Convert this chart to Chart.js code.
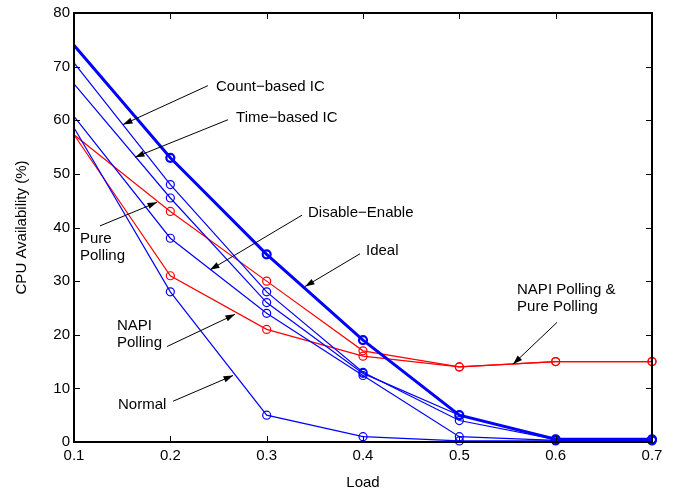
<!DOCTYPE html>
<html>
<head>
<meta charset="utf-8">
<title>CPU Availability vs Load</title>
<script src="https://cdn.jsdelivr.net/npm/chart.js@4.4.1/dist/chart.umd.min.js"></script>
<style>
    body { margin: 0; background: #fff; }
    #wrap { width: 683px; height: 493px; }
</style>
</head>
<body>
<div id="wrap"><canvas id="myChart" width="683" height="493"></canvas></div>
<script>
// load steps on the x axis
var Loads = [0.1, 0.2, 0.3, 0.4, 0.5, 0.6, 0.7];
var X_Ticks = [0.1, 0.2, 0.3, 0.4, 0.5, 0.6, 0.7];
var Y_Ticks = [0, 10, 20, 30, 40, 50, 60, 70, 80];

// CPU availability (%) per scheme
var Ideal = [74, 53, 35, 19, 5, 0.5, 0.5];
var Count_IC = [70.7, 48, 28, 13, 4, 0.5, 0.5];
var Time_IC = [66.8, 45.5, 26, 12.8, 5, 0.5, 0.5];
var Disable_Enable = [60.7, 38, 24, 12.4, 1, 0.3, 0.3];
var Normal = [58.6, 28, 5, 1, 0.2, 0.2, 0.2];
var Pure_Polling = [57.3, 43, 30, 17, 14, 15, 15];
var NAPI_Polling = [57.3, 31, 21, 16, 14, 15, 15];

// text callouts: text anchor, arrow tail and arrow tip in data units
var Notes = [
    { lines: ['Count\u2212based IC'], at: [0.2474, 66.3], from: [0.239, 66.45], to: [0.1509, 59.2] },
    { lines: ['Time\u2212based IC'], at: [0.2682, 60.5], from: [0.2599, 60.1], to: [0.1633, 53.1] },
    { lines: ['Pure', 'Polling'], at: [0.1062, 37.9], from: [0.127, 40.3], to: [0.1862, 44.7] },
    { lines: ['Disable\u2212Enable'], at: [0.3429, 42.7], from: [0.3367, 42.3], to: [0.2412, 32.1] },
    { lines: ['Ideal'], at: [0.4031, 35.6], from: [0.3969, 35.1], to: [0.3398, 29.0] },
    { lines: ['NAPI', 'Polling'], at: [0.1446, 21.7], from: [0.1965, 17.8], to: [0.2671, 23.8] },
    { lines: ['Normal'], at: [0.1457, 6.9], from: [0.2028, 7.6], to: [0.2651, 12.4] },
    { lines: ['NAPI Polling &', 'Pure Polling'], at: [0.5599, 28.4], from: [0.6014, 22.3], to: [0.5557, 14.5] }
];

var FONT = "'Liberation Sans', Arial, Helvetica, sans-serif";

function toPoints(values) {
    var pts = new Array();
    for (i = 0; i < values.length; i++) {
        pts[i] = { x: Loads[i], y: values[i] };
    }
    return pts;
}

function series(label, values, color, width, marker) {
    return {
        label: label,
        data: toPoints(values),
        borderColor: color,
        borderWidth: width,
        backgroundColor: 'rgba(0,0,0,0)',
        pointStyle: 'circle',
        pointRadius: function(ctx) { return ctx.dataIndex == 0 ? 0 : 4; },
        pointBorderWidth: marker,
        pointBorderColor: color,
        pointBackgroundColor: 'rgba(0,0,0,0)',
        tension: 0,
        clip: false
    };
}

// box round the plot with inward ticks on all four sides
var boxTicks = {
    id: 'boxTicks',
    afterDatasetsDraw: function(chart) {
        var c = chart.ctx;
        var a = chart.chartArea;
        var xs = chart.scales.x;
        var ys = chart.scales.y;
        var len = 6;
        c.save();
        c.strokeStyle = '#000';
        c.lineWidth = 1;
        c.beginPath();
        X_Ticks.forEach(function(v) {
            var px = Math.round(xs.getPixelForValue(v)) + 0.5;
            c.moveTo(px, a.bottom); c.lineTo(px, a.bottom - len);
            c.moveTo(px, a.top); c.lineTo(px, a.top + len);
        });
        Y_Ticks.forEach(function(v) {
            var py = Math.round(ys.getPixelForValue(v)) + 0.5;
            c.moveTo(a.left, py); c.lineTo(a.left + len, py);
            c.moveTo(a.right, py); c.lineTo(a.right - len, py);
        });
        c.stroke();
        c.lineWidth = 2;
        c.strokeRect(a.left, a.top, a.right - a.left, a.bottom - a.top);
        c.restore();
    }
};

// labels with arrows pointing at the curves
var callouts = {
    id: 'callouts',
    afterDatasetsDraw: function(chart) {
        var c = chart.ctx;
        var xs = chart.scales.x;
        var ys = chart.scales.y;
        c.save();
        c.fillStyle = '#000';
        c.strokeStyle = '#000';
        c.font = '15px ' + FONT;
        c.textBaseline = 'middle';
        c.textAlign = 'left';
        Notes.forEach(function(n) {
            var tx = xs.getPixelForValue(n.at[0]);
            var ty = ys.getPixelForValue(n.at[1]);
            for (j = 0; j < n.lines.length; j++) {
                c.fillText(n.lines[j], tx, ty + j * 17);
            }
            var x0 = xs.getPixelForValue(n.from[0]);
            var y0 = ys.getPixelForValue(n.from[1]);
            var x1 = xs.getPixelForValue(n.to[0]);
            var y1 = ys.getPixelForValue(n.to[1]);
            var ang = Math.atan2(y1 - y0, x1 - x0);
            c.lineWidth = 1;
            c.beginPath();
            c.moveTo(x0, y0);
            c.lineTo(x1, y1);
            c.stroke();
            c.beginPath();
            c.moveTo(x1, y1);
            c.lineTo(x1 - 10 * Math.cos(ang - 0.32), y1 - 10 * Math.sin(ang - 0.32));
            c.lineTo(x1 - 10 * Math.cos(ang + 0.32), y1 - 10 * Math.sin(ang + 0.32));
            c.closePath();
            c.fill();
        });
        c.restore();
    }
};

var ctx = document.getElementById('myChart').getContext('2d');
var chart = new Chart(ctx, {
    type: 'line',
    data: {
        datasets: [
            series('Ideal', Ideal, '#0000ff', 3, 2.2),
            series('Count-based IC', Count_IC, '#0000ff', 1.2, 1.2),
            series('Time-based IC', Time_IC, '#0000ff', 1.2, 1.2),
            series('Disable-Enable', Disable_Enable, '#0000ff', 1.2, 1.2),
            series('Normal', Normal, '#0000ff', 1.2, 1.2),
            series('Pure Polling', Pure_Polling, '#ff0000', 1.2, 1.2),
            series('NAPI Polling', NAPI_Polling, '#ff0000', 1.2, 1.2)
        ]
    },
    options: {
        responsive: false,
        animation: false,
        events: [],
        layout: { padding: { top: 10, right: 31, left: 0, bottom: 0 } },
        plugins: {
            legend: { display: false },
            tooltip: { enabled: false }
        },
        scales: {
            x: {
                type: 'linear',
                min: 0.1,
                max: 0.7,
                afterBuildTicks: function(scale) {
                    scale.ticks = X_Ticks.map(function(v) { return { value: v }; });
                },
                afterFit: function(scale) { scale.height = 51; },
                grid: { display: false, drawTicks: false },
                border: { display: false },
                ticks: {
                    padding: 5,
                    color: '#000',
                    font: { family: FONT, size: 15 },
                    maxRotation: 0,
                    callback: function(v) { return v.toFixed(1); }
                },
                title: {
                    display: true,
                    text: 'Load',
                    color: '#000',
                    font: { family: FONT, size: 15 },
                    padding: { top: 0, bottom: 1 }
                }
            },
            y: {
                type: 'linear',
                min: 0,
                max: 80,
                afterBuildTicks: function(scale) {
                    scale.ticks = Y_Ticks.map(function(v) { return { value: v }; });
                },
                afterFit: function(scale) { scale.width = 74; },
                grid: { display: false, drawTicks: false },
                border: { display: false },
                ticks: {
                    padding: 4,
                    color: '#000',
                    font: { family: FONT, size: 15 }
                },
                title: {
                    display: true,
                    text: 'CPU Availability (%)',
                    color: '#000',
                    font: { family: FONT, size: 15 },
                    padding: { top: 13, bottom: 0 }
                }
            }
        }
    },
    plugins: [boxTicks, callouts]
});
</script>
</body>
</html>
